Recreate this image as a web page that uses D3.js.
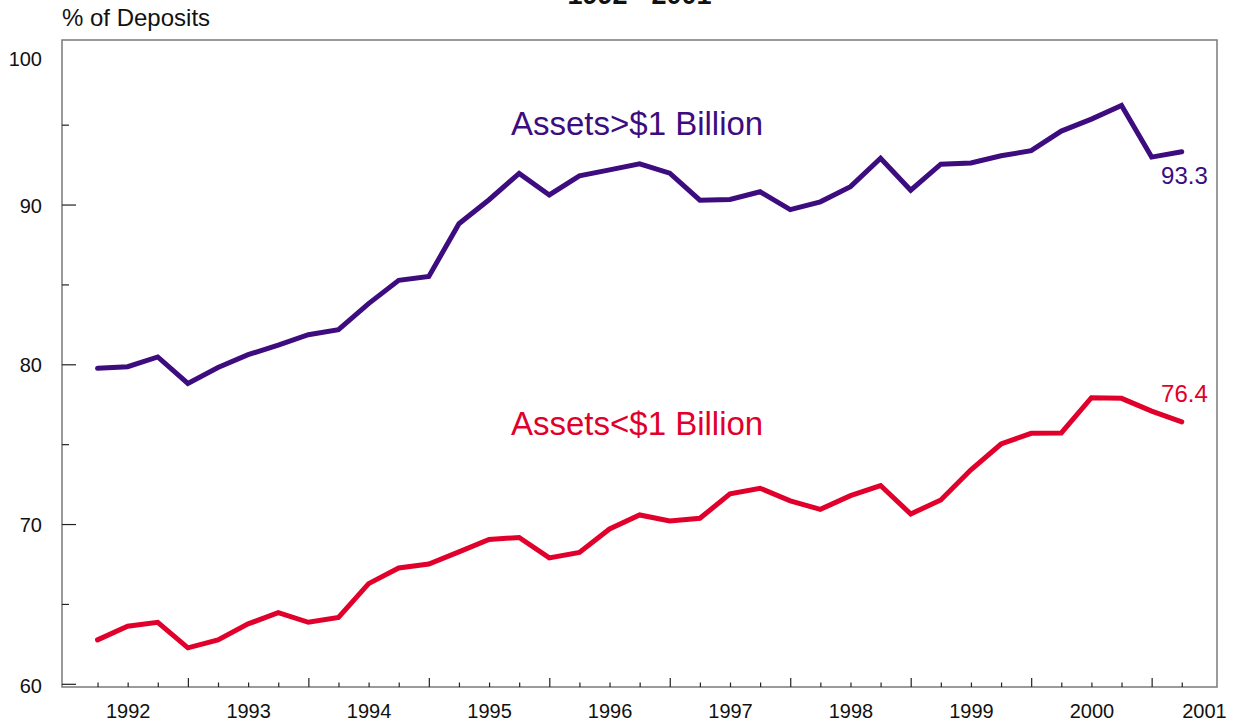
<!DOCTYPE html>
<html>
<head>
<meta charset="utf-8">
<script src="https://cdn.jsdelivr.net/npm/d3@7"></script>
<style>
  html, body { margin: 0; padding: 0; background: #fff; }
  svg { display: block; font-family: "Liberation Sans", Arial, sans-serif; }
</style>
</head>
<body>
<svg id="chart" width="1242" height="725"></svg>
<script>
// ---- data ----
const quarters = [
  "1992Q1","1992Q2","1992Q3","1992Q4","1993Q1","1993Q2","1993Q3","1993Q4",
  "1994Q1","1994Q2","1994Q3","1994Q4","1995Q1","1995Q2","1995Q3","1995Q4",
  "1996Q1","1996Q2","1996Q3","1996Q4","1997Q1","1997Q2","1997Q3","1997Q4",
  "1998Q1","1998Q2","1998Q3","1998Q4","1999Q1","1999Q2","1999Q3","1999Q4",
  "2000Q1","2000Q2","2000Q3","2000Q4","2001Q1"
];
const largeBanks = [
  79.75, 79.85, 80.46, 78.8, 79.8, 80.6, 81.2, 81.85,
  82.17, 83.8, 85.26, 85.5, 88.8, 90.3, 91.95, 90.6,
  91.8, 92.17, 92.55, 91.96, 90.27, 90.32, 90.8, 89.68,
  90.17, 91.12, 92.9, 90.9, 92.53, 92.6, 93.05, 93.37,
  94.6, 95.35, 96.2, 92.97, 93.3
];
const smallBanks = [
  62.75, 63.6, 63.85, 62.25, 62.75, 63.75, 64.45, 63.85,
  64.15, 66.27, 67.25, 67.5, 68.26, 69.03, 69.16, 67.88,
  68.22, 69.69, 70.57, 70.19, 70.36, 71.89, 72.24, 71.45,
  70.92, 71.78, 72.41, 70.63, 71.51, 73.4, 75.01, 75.68,
  75.7, 77.91, 77.87, 77.07, 76.4
];
const yearLabels = ["1992","1993","1994","1995","1996","1997","1998","1999","2000","2001"];
const yMajorTicks = [60, 70, 80, 90, 100];
const yMinorTicks = [65, 75, 85, 95];
const seriesNames = ["Assets>$1 Billion", "Assets<$1 Billion"];
const endLabels = ["93.3", "76.4"];
const titleText = "1992 - 2001";
const yAxisTitle = "% of Deposits";

(function () {
// ---- layout ----
const svg = d3.select("#chart");
const pL = 62, pR = 1217, pT = 40, pB = 687;
const purple = "#3d0c7e", red = "#e1002b";

const x = d3.scaleLinear().domain([-1.18, 37.17]).range([pL, pR]);
const y = d3.scaleLinear().domain([59.8, 100.3]).range([pB, pT]);

// title (cut off at top as in the original)
svg.append("text")
  .attr("x", (pL + pR) / 2).attr("y", 4)
  .attr("text-anchor", "middle")
  .attr("font-size", 27).attr("font-weight", "bold").attr("fill", "#111")
  .text(titleText);

svg.append("text")
  .attr("x", pL).attr("y", 26)
  .attr("font-size", 24).attr("fill", "#111")
  .text(yAxisTitle);

// frame
svg.append("rect")
  .attr("x", pL).attr("y", pT)
  .attr("width", pR - pL).attr("height", pB - pT)
  .attr("fill", "none").attr("stroke", "#7a7a7a").attr("stroke-width", 1.5);

// y ticks (inside)
const yMaj = svg.append("g").attr("transform", `translate(${pL},0)`)
  .call(d3.axisRight(y).tickValues(yMajorTicks.filter(v => v < 100)).tickSize(14).tickFormat(""));
const yMin = svg.append("g").attr("transform", `translate(${pL},0)`)
  .call(d3.axisRight(y).tickValues(yMinorTicks).tickSize(7).tickFormat(""));
[yMaj, yMin].forEach(g => {
  g.select(".domain").remove();
  g.selectAll("line").attr("stroke", "#222").attr("stroke-width", 1.2);
});

// y labels
const yLab = svg.append("g").attr("transform", `translate(${pL},0)`)
  .call(d3.axisLeft(y).tickValues(yMajorTicks).tickSize(0).tickPadding(20).tickFormat(d3.format("d")));
yLab.select(".domain").remove();
yLab.selectAll("text")
  .attr("font-size", 20).attr("fill", "#111")
  .attr("font-family", "Liberation Sans, Arial, sans-serif")
  .attr("dy", d => d === 100 ? "1.05em" : (d === 60 ? "0.42em" : "0.38em"));

// x ticks (inside, pointing up)
const idx = d3.range(quarters.length);
const xMin = svg.append("g").attr("transform", `translate(0,${pB})`)
  .call(d3.axisTop(x).tickValues(idx.filter(i => i % 4 !== 3)).tickSize(4.5).tickFormat(""));
const xMaj = svg.append("g").attr("transform", `translate(0,${pB})`)
  .call(d3.axisTop(x).tickValues(idx.filter(i => i % 4 === 3)).tickSize(9).tickFormat(""));
[xMin, xMaj].forEach(g => {
  g.select(".domain").remove();
  g.selectAll("line").attr("stroke", "#222").attr("stroke-width", 1.2);
});

// x labels (one per year)
const xLab = svg.append("g").attr("transform", `translate(0,${pB})`)
  .call(d3.axisBottom(x).tickValues(yearLabels.map((_, k) => 1 + 4 * k))
    .tickSize(0).tickPadding(17).tickFormat((d, k) => yearLabels[k]));
xLab.select(".domain").remove();
xLab.selectAll("text")
  .attr("font-size", 20).attr("fill", "#111")
  .attr("font-family", "Liberation Sans, Arial, sans-serif")
  .attr("dx", (d, k) => k === yearLabels.length - 1 ? -8 : 0);

// lines
const line = d3.line().x((d, i) => x(i)).y(d => y(d));
[[largeBanks, purple], [smallBanks, red]].forEach(([data, col]) => {
  svg.append("path").datum(data)
    .attr("d", line)
    .attr("fill", "none").attr("stroke", col)
    .attr("stroke-width", 5).attr("stroke-linejoin", "miter")
    .attr("stroke-linecap", "round");
});

// series labels
svg.append("text").attr("x", 511).attr("y", 135)
  .attr("font-size", 33).attr("fill", purple).text(seriesNames[0]);
svg.append("text").attr("x", 511).attr("y", 435)
  .attr("font-size", 33).attr("fill", red).text(seriesNames[1]);

// end labels
const last = quarters.length - 1;
svg.append("text").attr("x", x(last) + 26).attr("y", y(largeBanks[last]) + 32)
  .attr("text-anchor", "end").attr("font-size", 24).attr("fill", purple).text(endLabels[0]);
svg.append("text").attr("x", x(last) + 26).attr("y", y(smallBanks[last]) - 20)
  .attr("text-anchor", "end").attr("font-size", 24).attr("fill", red).text(endLabels[1]);
})();
</script>
</body>
</html>
